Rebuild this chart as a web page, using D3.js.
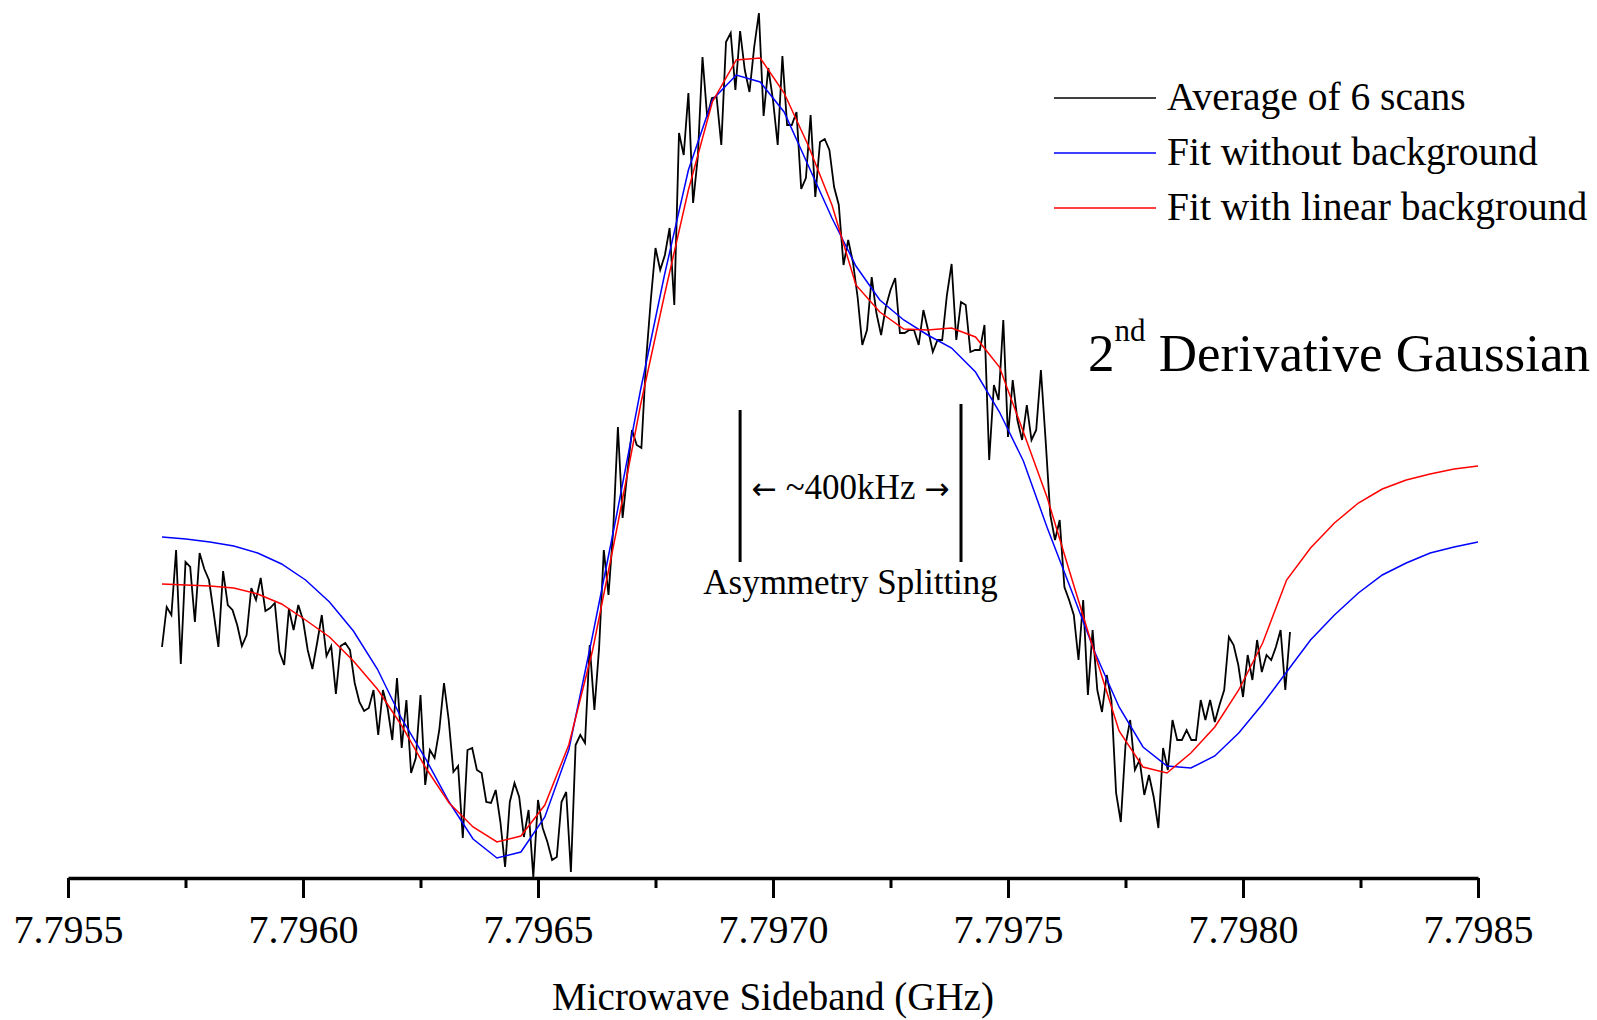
<!DOCTYPE html>
<html>
<head>
<meta charset="utf-8">
<script src="https://cdn.jsdelivr.net/npm/d3@7"></script>
<style>
  body { margin: 0; background: #fff; }
  svg text { font-family: "Liberation Serif", "Times New Roman", serif; fill: #000; }
</style>
</head>
<body>
<div class="chart"></div>
<script>
// averaged scan, evenly spaced between scanStart and scanEnd (GHz), arb. units
const scanStart = 7.79570, scanEnd = 7.79810;
const scanSignal = [
  231,271,263,328,214,316,311,256,325,309,
  298,265,231,307,273,268,253,232,243,290,
  278,300,267,270,275,226,213,269,248,273,
  258,228,209,235,263,222,232,184,232,235,
  228,195,176,167,170,188,143,188,170,138,
  200,130,178,105,120,183,93,128,120,148,
  195,158,106,112,40,128,130,108,105,76,
  75,88,56,11,76,95,81,41,68,1,
  78,50,36,18,21,76,86,6,133,143,
  135,233,168,230,328,283,348,451,360,405,
  448,433,430,518,578,630,608,623,650,573,
  745,723,785,675,721,821,761,780,781,733,
  836,845,788,847,808,786,831,865,762,810,
  778,733,822,753,753,766,689,700,763,681,
  736,739,728,691,673,613,638,616,581,533,
  548,601,565,543,571,588,600,545,545,548,
  548,533,568,548,526,538,538,583,614,538,
  576,573,526,528,528,553,418,493,478,558,
  441,498,458,438,473,438,448,508,438,363,
  338,358,291,278,263,218,278,183,248,188,
  166,203,178,85,56,133,158,108,118,83,
  103,81,50,130,108,158,138,138,148,138,
  138,178,158,178,156,173,188,241,233,213,
  181,223,198,238,206,223,218,231,248,188,
  246
];

// fits, evenly spaced between fitStart and fitEnd
const fitStart = 7.79570, fitEnd = 7.79850;
const fitNoBackground = [
  341,339,336,332,325,314,298,276,247,209,
  160,120,76,39,20,26,61,128,243,363,
  488,603,708,778,803,796,766,713,660,612,
  578,558,543,530,506,466,417,350,288,225,
  171,131,112,110,122,145,174,206,238,263,
  285,303,315,325,331,336
];
const fitLinearBackground = [
  294,293,292,290,284,274,258,241,217,189,
  153,111,75,51,36,42,73,133,228,348,
  473,583,688,776,818,820,785,733,673,593,
  566,549,548,550,541,511,446,380,301,223,
  147,111,105,125,151,188,235,298,330,355,
  375,389,398,404,409,412
];

const majorTicks = [7.7955, 7.7960, 7.7965, 7.7970, 7.7975, 7.7980, 7.7985];
const minorTicks = [7.79575, 7.79625, 7.79675, 7.79725, 7.79775, 7.79825];

const legendLabels = ["Average of 6 scans", "Fit without background", "Fit with linear background"];
const legendColors = ["#000000", "#0000ff", "#ff0000"];

// asymmetry splitting markers (GHz) and their extent (signal units)
const splitFreqs = [7.79693, 7.79740];
const splitTops = [468, 474];
const splitBottom = 316;

const width = 1597, height = 1020;

const svg = d3.select(".chart").append("svg")
  .attr("width", width)
  .attr("height", height);

const x = d3.scaleLinear().domain([7.7955, 7.7985]).range([68, 1478]);
const y = d3.scaleLinear().domain([0, 870]).range([878, 8]);

const scanFreq = scanSignal.map((d, i) => scanStart + i * (scanEnd - scanStart) / (scanSignal.length - 1));
const fitFreq = fitNoBackground.map((d, i) => fitStart + i * (fitEnd - fitStart) / (fitNoBackground.length - 1));

const line = d3.line()
  .x(d => x(d[0]))
  .y(d => y(d[1]));

svg.append("path")
  .datum(scanSignal.map((v, i) => [scanFreq[i], v]))
  .attr("d", line)
  .attr("fill", "none")
  .attr("stroke", "#000")
  .attr("stroke-width", 1.8);

svg.append("path")
  .datum(fitNoBackground.map((v, i) => [fitFreq[i], v]))
  .attr("d", line)
  .attr("fill", "none")
  .attr("stroke", "#0000ff")
  .attr("stroke-width", 1.5);

svg.append("path")
  .datum(fitLinearBackground.map((v, i) => [fitFreq[i], v]))
  .attr("d", line)
  .attr("fill", "none")
  .attr("stroke", "#ff0000")
  .attr("stroke-width", 1.5);

// x axis
const axis = svg.append("g")
  .attr("transform", `translate(0,${y(0)})`)
  .call(d3.axisBottom(x)
    .tickValues(majorTicks)
    .tickSize(20)
    .tickSizeOuter(0)
    .tickPadding(17)
    .tickFormat(d3.format(".4f")));
axis.select(".domain").attr("stroke-width", 3.5);
axis.selectAll(".tick line").attr("stroke-width", 3);
axis.selectAll(".tick text")
  .style("font-family", "'Liberation Serif', serif")
  .style("font-size", "40px");

const minor = svg.append("g")
  .attr("transform", `translate(0,${y(0)})`)
  .call(d3.axisBottom(x).tickValues(minorTicks).tickSize(10).tickFormat(""));
minor.select(".domain").remove();
minor.selectAll(".tick line").attr("stroke-width", 3);

svg.append("text")
  .attr("x", (x(7.7955) + x(7.7985)) / 2)
  .attr("y", 1010)
  .attr("text-anchor", "middle")
  .style("font-size", "39px")
  .text("Microwave Sideband (GHz)");

// legend
const legend = svg.append("g");
legendLabels.forEach((label, i) => {
  const ly = 98 + i * 55;
  legend.append("line")
    .attr("x1", 1054).attr("x2", 1156)
    .attr("y1", ly).attr("y2", ly)
    .attr("stroke", legendColors[i])
    .attr("stroke-width", 1.5);
  legend.append("text")
    .attr("x", 1167)
    .attr("y", ly + 12)
    .style("font-size", "39.5px")
    .text(label);
});

// title
const title = svg.append("text")
  .attr("x", 1088)
  .attr("y", 371)
  .style("font-size", "53px");
title.append("tspan").text("2");
title.append("tspan").attr("dy", -30).style("font-size", "31px").text("nd");
title.append("tspan").attr("dy", 30).text(" Derivative Gaussian");

// asymmetry splitting annotation
splitFreqs.forEach((f, i) => {
  svg.append("line")
    .attr("x1", x(f)).attr("x2", x(f))
    .attr("y1", y(splitTops[i])).attr("y2", y(splitBottom))
    .attr("stroke", "#000")
    .attr("stroke-width", 3);
});
const midX = (x(splitFreqs[0]) + x(splitFreqs[1])) / 2;
const splitLabel = svg.append("text")
  .attr("x", midX)
  .attr("y", y(379))
  .attr("text-anchor", "middle")
  .style("font-size", "35px");
splitLabel.append("tspan").style("font-family", "'DejaVu Sans', sans-serif").style("font-size", "30px").text("\u2190");
splitLabel.append("tspan").text(" ~400kHz ");
splitLabel.append("tspan").style("font-family", "'DejaVu Sans', sans-serif").style("font-size", "30px").text("\u2192");
svg.append("text")
  .attr("x", midX)
  .attr("y", y(284))
  .attr("text-anchor", "middle")
  .style("font-size", "35px")
  .text("Asymmetry Splitting");
</script>
</body>
</html>
